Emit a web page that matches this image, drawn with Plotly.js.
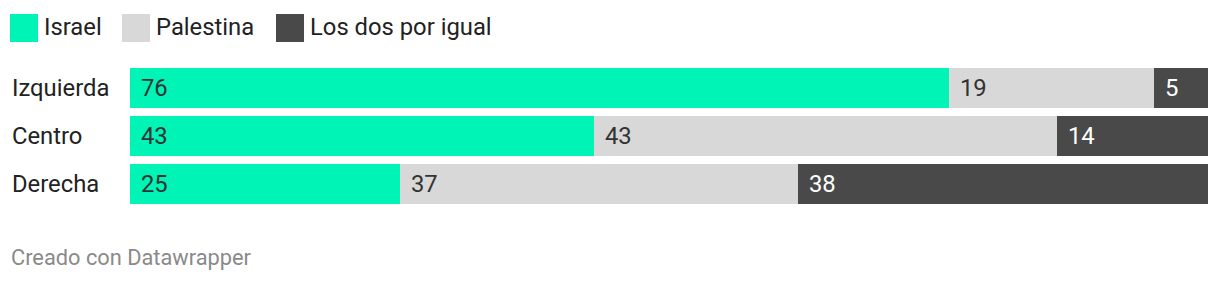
<!DOCTYPE html>
<html>
<head>
<meta charset="utf-8">
<script src="https://cdn.plot.ly/plotly-3.0.1.min.js"></script>
<style>
  html, body { margin: 0; padding: 0; background: #fff; }
  #chart { width: 1220px; height: 282px; }
</style>
</head>
<body>
<div id="chart"></div>
<script>
// Grupos ideológicos y reparto de simpatías (%)
const categories = ["Izquierda", "Centro", "Derecha"];
const seriesNames = ["Israel", "Palestina", "Los dos por igual"];
const israel = [76, 43, 25];
const palestina = [19, 43, 37];
const ambos = [5, 14, 38];
const footer = "Creado con Datawrapper";

const series = [israel, palestina, ambos];
const colors = ["#00f4b6", "#d8d8d8", "#494949"];
const labelColors = ["#333333", "#333333", "#ffffff"];

const W = 1220, H = 282;
const M = { l: 130, r: 12, t: 64, b: 74 };
const PW = W - M.l - M.r, PH = H - M.t - M.b;
const FONT = "Roboto, 'Noto Sans', sans-serif";
const FS = 23.8;

// pixel -> paper helpers for the hand-drawn legend and footer
const px = x => (x - M.l) / PW;
const py = y => 1 - (y - M.t) / PH;

const traces = series.map((vals, i) => ({
  type: "bar",
  orientation: "h",
  name: seriesNames[i],
  y: categories,
  x: vals,
  marker: { color: colors[i], line: { width: 0 } },
  hoverinfo: "skip",
  showlegend: false
}));

const annotations = [];
// value labels at the start of every segment
categories.forEach((cat, j) => {
  let start = 0;
  series.forEach((vals, i) => {
    annotations.push({
      x: start, y: cat, xref: "x", yref: "y",
      text: String(vals[j]), showarrow: false,
      xanchor: "left", xshift: 9, yshift: 0,
      font: { family: FONT, size: FS, color: labelColors[i] }
    });
    start += vals[j];
  });
  // category labels, left aligned
  annotations.push({
    x: 0, y: cat, xref: "paper", yref: "y",
    text: cat, showarrow: false,
    xanchor: "left", xshift: -(M.l - 10),
    font: { family: FONT, size: FS, color: "#222222" }
  });
});

// legend
const shapes = [];
const legendX = [10, 122, 276];
seriesNames.forEach((name, i) => {
  const x0 = legendX[i];
  shapes.push({
    type: "rect", xref: "paper", yref: "paper",
    x0: px(x0), x1: px(x0 + 28), y0: py(42), y1: py(14),
    fillcolor: colors[i], line: { width: 0 }
  });
  annotations.push({
    x: px(x0 + 32), y: py(27), xref: "paper", yref: "paper",
    text: name, showarrow: false, xanchor: "left", yanchor: "middle",
    font: { family: FONT, size: FS, color: "#222222" }
  });
});

annotations.push({
  x: px(9), y: py(257), xref: "paper", yref: "paper",
  text: footer, showarrow: false, xanchor: "left", yanchor: "middle",
  font: { family: FONT, size: 21.8, color: "#8a8a8a" }
});

const layout = {
  width: W, height: H,
  margin: M,
  paper_bgcolor: "#ffffff", plot_bgcolor: "#ffffff",
  barmode: "stack",
  bargap: 8 / 48,
  showlegend: false,
  xaxis: { range: [0, 100], visible: false, fixedrange: true },
  yaxis: {
    type: "category", categoryarray: categories,
    range: [2.5, -0.5], visible: false, fixedrange: true
  },
  annotations, shapes
};

Plotly.newPlot("chart", traces, layout, { displayModeBar: false, staticPlot: true });
</script>
</body>
</html>
